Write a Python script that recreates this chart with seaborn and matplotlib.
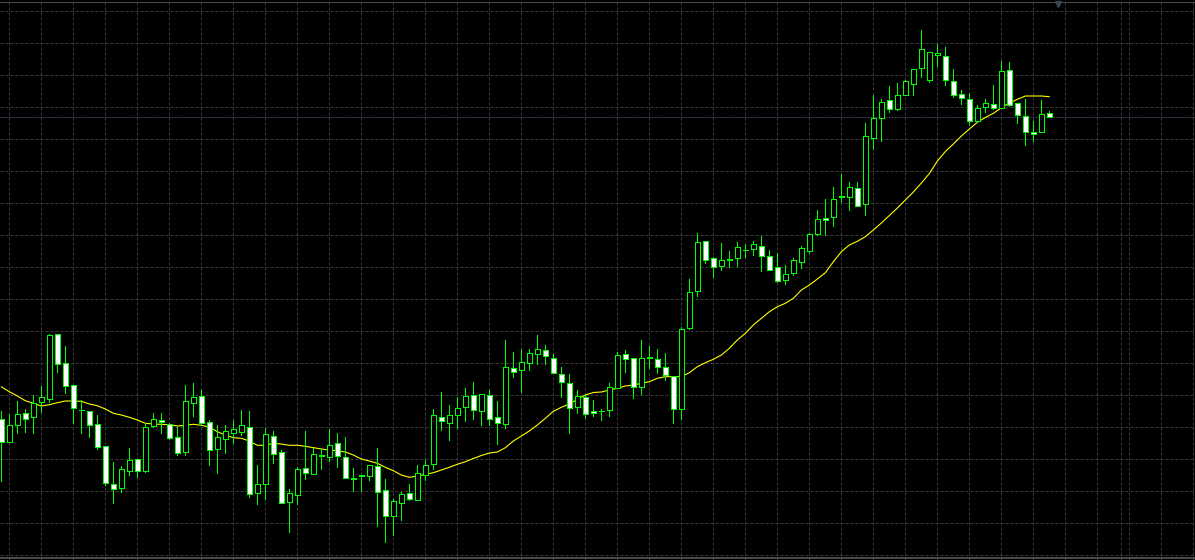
import numpy as np
import pandas as pd
import seaborn as sns
import matplotlib
matplotlib.use("Agg")
import matplotlib.pyplot as plt

# OHLC (price points), one entry per bar
opens = [140.7, 118.3, 135.3, 146.7, 142.7, 158.3, 160.7, 225.7, 196.7, 174.7,
         150.0, 148.7, 135.7, 113.7, 75.7, 71.7, 89.3, 100.7, 89.3, 134.3,
         139.7, 135.7, 122.7, 108.3, 156.7, 164.0, 137.7, 111.3, 121.3, 127.3,
         128.3, 132.7, 67.3, 76.3, 123.7, 108.0, 57.7, 65.3, 91.7, 85.7,
         104.3, 102.7, 116.7, 102.7, 81.3, 84.0, 84.0, 93.7, 69.7, 44.3,
         57.3, 67.0, 60.3, 84.7, 95.7, 142.7, 137.3, 145.0, 153.3, 165.0,
         149.3, 164.7, 142.7, 136.3, 191.7, 190.3, 196.7, 205.7, 209.7, 201.7,
         185.7, 176.7, 153.3, 162.7, 149.0, 148.7, 149.7, 171.7, 206.0, 201.7,
         172.7, 201.7, 200.7, 192.7, 183.7, 151.3, 231.7, 269.3, 318.7, 301.7,
         293.7, 299.7, 301.7, 309.7, 311.3, 313.7, 303.7, 292.7, 280.3, 287.3,
         298.5, 309.5, 326.3, 342.0, 343.3, 362.7, 362.7, 371.7, 355.7, 422.3,
         442.3, 459.7, 451.3, 465.3, 476.3, 492.3, 480.3, 505.3, 503.7, 478.7,
         465.7, 460.7, 439.3, 452.7, 455.7, 452.3, 489.7, 456.7, 443.7, 427.7,
         428.3, 446.7]
highs = [149.3, 146.0, 159.0, 151.0, 165.0, 174.0, 226.0, 225.7, 214.0, 174.7,
         160.0, 148.7, 145.0, 113.7, 97.7, 94.0, 112.0, 100.7, 136.7, 146.7,
         146.7, 137.3, 132.7, 175.0, 176.7, 170.0, 140.0, 135.0, 135.0, 140.0,
         150.0, 149.0, 95.0, 131.7, 129.0, 110.0, 71.0, 92.7, 129.0, 111.7,
         112.3, 131.3, 127.3, 123.0, 92.0, 84.7, 94.7, 111.7, 81.0, 61.3,
         68.3, 76.0, 95.0, 100.0, 151.0, 168.0, 155.0, 162.7, 172.0, 178.0,
         165.7, 169.7, 159.0, 220.0, 208.0, 211.0, 211.0, 225.0, 215.0, 206.0,
         192.7, 186.0, 169.7, 165.0, 160.0, 151.0, 177.3, 207.7, 210.0, 201.7,
         220.0, 214.3, 211.0, 207.0, 183.7, 233.3, 280.7, 326.7, 318.7, 303.3,
         317.0, 308.7, 317.7, 316.0, 319.0, 324.0, 309.7, 306.7, 294.7, 301.7,
         313.8, 327.0, 350.0, 361.0, 373.0, 386.0, 378.0, 378.0, 437.0, 465.0,
         460.7, 474.0, 476.7, 480.0, 490.7, 530.0, 507.7, 516.0, 512.7, 490.7,
         469.7, 466.7, 454.7, 460.7, 474.7, 498.7, 497.7, 456.7, 460.7, 438.7,
         459.7, 448.7]
lows = [79.3, 118.3, 127.3, 128.3, 127.3, 148.3, 158.3, 188.3, 167.3, 137.3,
        127.3, 122.7, 111.3, 74.7, 56.7, 67.7, 85.3, 83.3, 88.3, 132.7,
        127.3, 121.3, 105.3, 105.3, 144.0, 135.0, 95.3, 86.7, 107.3, 117.3,
        125.0, 63.3, 56.3, 61.0, 97.3, 56.7, 28.3, 56.3, 80.7, 85.7,
        90.7, 99.0, 93.3, 81.7, 69.3, 69.3, 80.0, 34.3, 18.3, 25.0,
        40.0, 60.3, 60.3, 80.0, 91.0, 130.0, 120.0, 132.3, 139.3, 140.7,
        135.0, 135.0, 116.3, 132.3, 183.3, 168.3, 190.0, 196.3, 196.3, 186.7,
        163.3, 127.3, 146.7, 141.7, 144.0, 140.0, 144.0, 171.7, 188.3, 162.3,
        165.7, 191.7, 186.7, 180.0, 137.3, 141.3, 230.7, 264.0, 297.3, 283.3,
        290.0, 293.3, 294.0, 303.3, 304.7, 289.3, 290.3, 277.7, 276.3, 285.3,
        292.5, 306.7, 325.0, 325.0, 334.3, 357.7, 350.0, 354.3, 345.3, 411.0,
        419.3, 448.0, 450.0, 465.3, 465.3, 483.3, 478.0, 494.3, 475.3, 462.7,
        456.3, 434.7, 437.7, 447.7, 450.7, 451.7, 454.3, 437.3, 415.3, 419.3,
        428.3, 442.7]
closes = [117.7, 134.7, 145.7, 141.3, 156.7, 162.7, 225.0, 195.7, 173.7, 151.7,
          150.5, 134.7, 112.7, 76.7, 70.7, 90.7, 99.7, 88.7, 132.7, 140.7,
          137.7, 121.7, 107.3, 159.0, 162.7, 136.7, 109.7, 122.7, 129.0, 130.7,
          134.7, 65.7, 75.7, 126.0, 105.7, 56.7, 66.7, 91.0, 86.7, 105.7,
          105.0, 115.0, 103.7, 81.7, 82.0, 84.7, 94.7, 67.7, 43.7, 58.7,
          66.0, 61.3, 86.7, 94.7, 144.7, 139.3, 144.7, 151.7, 163.7, 150.3,
          165.7, 141.3, 137.3, 192.7, 188.3, 197.7, 206.7, 210.7, 204.3, 186.7,
          177.7, 151.7, 163.7, 145.7, 147.0, 149.3, 172.7, 204.7, 200.7, 173.3,
          201.7, 202.7, 193.3, 185.3, 150.7, 230.7, 267.7, 317.7, 299.7, 292.7,
          299.7, 301.3, 312.7, 309.7, 315.7, 304.3, 290.3, 279.3, 285.7, 299.7,
          311.7, 325.8, 341.0, 339.7, 361.0, 363.7, 372.7, 354.3, 423.7, 441.7,
          457.7, 450.7, 464.7, 479.0, 490.7, 510.7, 507.7, 506.7, 479.7, 464.7,
          461.7, 438.7, 451.7, 456.7, 451.7, 488.7, 455.3, 445.3, 427.7, 425.7,
          445.7, 442.7]
# moving average as drawn (yellow)
ma = [173.3, 168.3, 164.0, 159.3, 156.7, 154.0, 155.3, 157.3, 159.0, 159.0,
      158.7, 156.0, 154.3, 151.0, 146.7, 145.0, 142.7, 140.0, 136.7, 136.0,
      135.7, 135.3, 134.0, 134.7, 135.7, 134.7, 133.0, 128.3, 125.0, 122.3,
      121.7, 119.0, 114.7, 114.7, 116.7, 116.0, 114.7, 114.7, 113.7, 112.3,
      111.0, 110.0, 109.3, 108.0, 105.0, 101.0, 99.0, 96.7, 92.7, 89.3,
      85.0, 82.7, 84.0, 85.7, 87.3, 90.0, 92.7, 95.7, 98.3, 101.5,
      104.5, 107.0, 108.0, 112.3, 119.0, 124.0, 129.0, 135.0, 141.7, 148.7,
      152.7, 156.0, 160.7, 165.0, 167.5, 168.0, 170.0, 171.7, 174.0, 175.0,
      176.7, 178.3, 181.7, 183.3, 183.3, 183.3, 187.3, 193.3, 197.3, 200.7,
      205.0, 211.7, 220.0, 226.7, 235.0, 241.7, 248.3, 253.3, 256.7, 261.7,
      270.0, 275.0, 281.0, 287.3, 298.3, 308.3, 315.0, 318.7, 323.3, 330.0,
      337.0, 344.5, 352.0, 360.0, 368.0, 377.0, 386.5, 399.0, 408.5, 416.0,
      424.0, 431.0, 437.7, 442.5, 446.7, 452.3, 457.0, 460.7, 464.0, 464.0,
      464.0, 463.3]

df = pd.DataFrame({"open": opens, "high": highs, "low": lows,
                   "close": closes, "ma": ma})
df["bar"] = np.arange(len(df))

sns.set_theme(style="dark", rc={"axes.facecolor": "black",
                                "figure.facecolor": "black"})

fig = plt.figure(figsize=(11.95, 5.6), dpi=100)
ax = fig.add_axes([0, 0, 1, 1])
ax.set_facecolor("black")

px = 0.72  # one pixel in points
green = "#00ff00"

# grid
ax.set_xticks(np.arange(1, 150, 4))
ax.set_yticks(np.arange(5.3, 560, 32))
ax.grid(True, color="#3a3a3a", linestyle=(0, (3, 2)), linewidth=px)
ax.axvline(140, color="#3a3a3a", linestyle=(0, (3, 2)), linewidth=px)
ax.tick_params(length=0, labelbottom=False, labelleft=False)
for s in ax.spines.values():
    s.set_visible(False)

# frame lines
ax.axhline(558, color="#4a4a4a", linewidth=px)
ax.axhline(2.5, color="#4a4a4a", linewidth=2 * px)

# moving average
sns.lineplot(data=df, x="bar", y="ma", ax=ax, color="#ffff00",
             zorder=2, legend=False)
ax.lines[-1].set_linewidth(0.8)

# wicks
ax.vlines(df["bar"], df["low"], df["high"], color=green, linewidth=px,
          antialiased=False, zorder=3)

# bodies
bull = df["close"] >= df["open"]
faces = np.where(bull, "black", "white")
bottoms = np.minimum(df["open"], df["close"])
heights = (df["close"] - df["open"]).abs()
ax.bar(df["bar"], heights, bottom=bottoms, width=0.55, color=faces,
       edgecolor=green, linewidth=px, antialiased=False, zorder=4)

# bid line and chart-shift marker
ax.axhline(closes[-1], color="#34465a", linewidth=px, linestyle=(0, (2, 1)),
           zorder=1)
ax.plot([132.1], [556], marker="v", color="#3a4650", markersize=4,
        clip_on=False)

ax.set_xlim(-0.1625, 149.2)
ax.set_ylim(0, 560)
ax.set_xlabel("")
ax.set_ylabel("")

fig.savefig("out.png", dpi=100, facecolor="black")
